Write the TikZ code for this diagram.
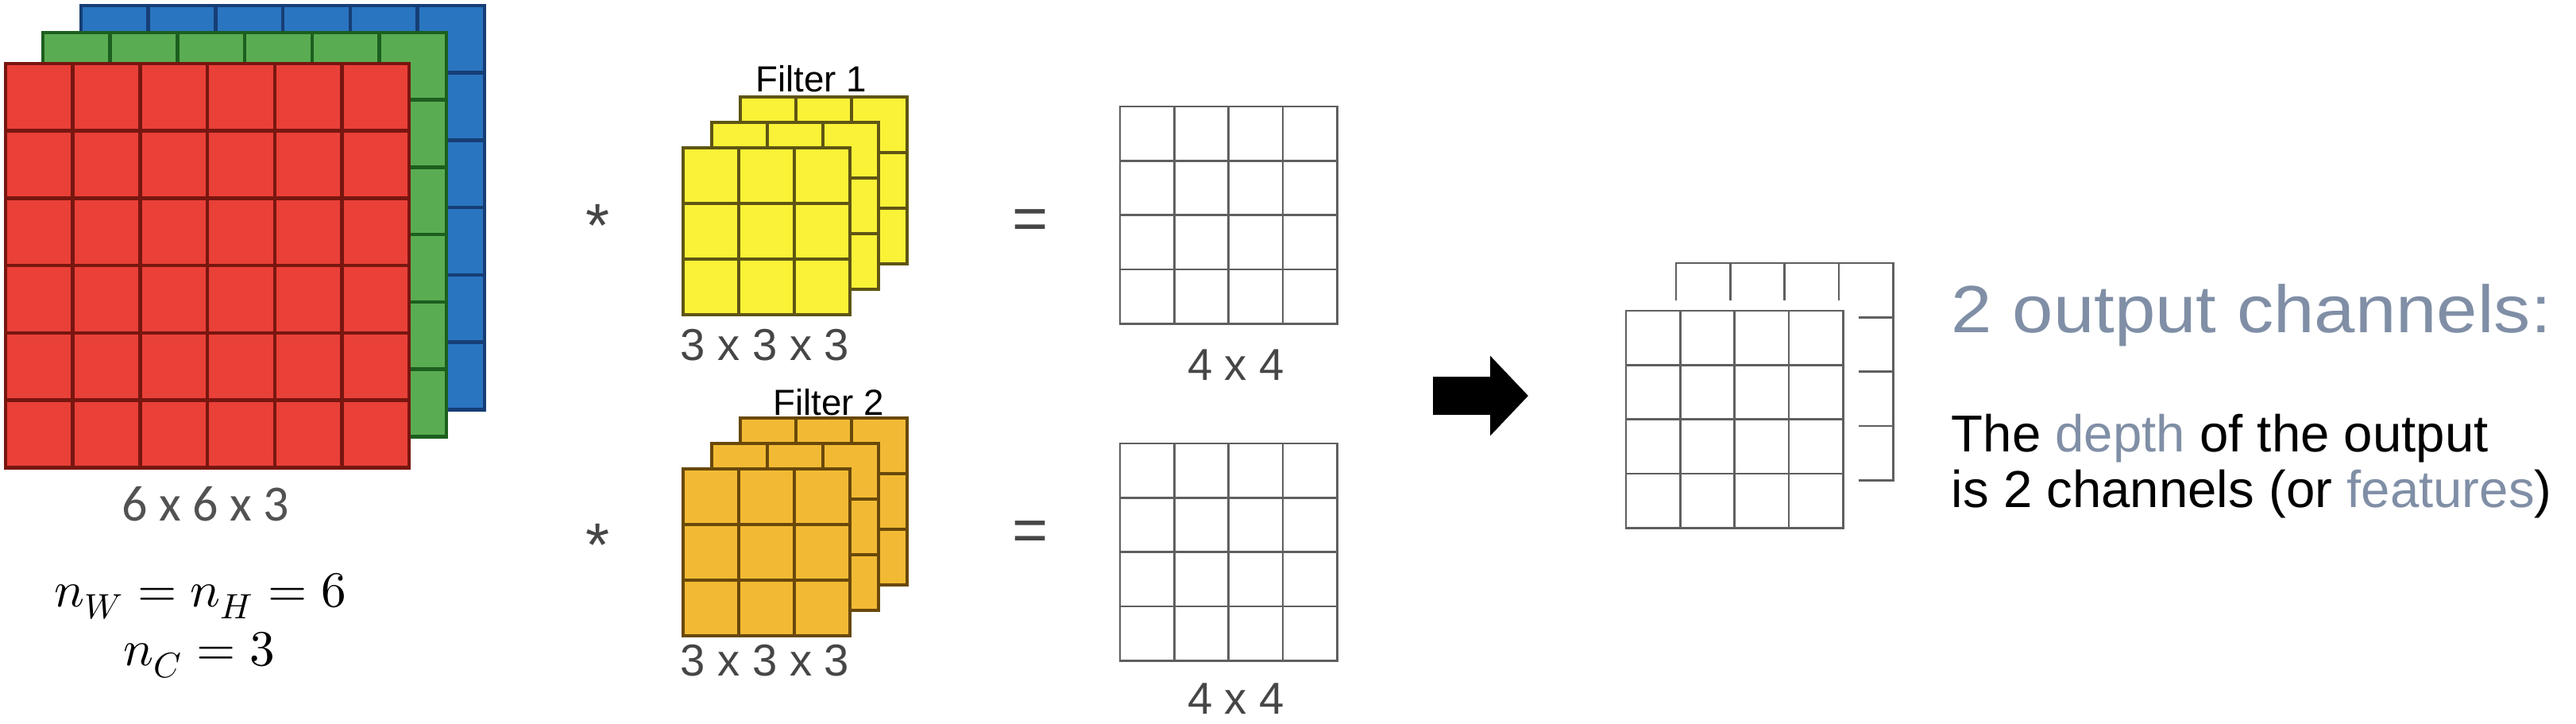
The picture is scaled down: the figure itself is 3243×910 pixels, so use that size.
\documentclass[tikz,border=0pt]{standalone}
\usepackage{fontspec}
\usepackage{unicode-math}
\setmainfont{Liberation Sans}
\newfontfamily\calfont{Carlito}
\newfontfamily\headfont[FakeStretch=1.1]{Liberation Sans}
\usetikzlibrary{arrows.meta}

\definecolor{layerred}{RGB}{233,64,56}
\definecolor{linered}{RGB}{120,22,16}
\definecolor{layergreen}{RGB}{90,172,82}
\definecolor{linegreen}{RGB}{28,95,30}
\definecolor{layerblue}{RGB}{42,117,192}
\definecolor{lineblue}{RGB}{22,62,118}
\definecolor{filteryellow}{RGB}{250,242,55}
\definecolor{lineyellow}{RGB}{95,85,20}
\definecolor{filterorange}{RGB}{242,186,52}
\definecolor{lineorange}{RGB}{105,72,10}
\definecolor{outgray}{RGB}{95,95,95}
\definecolor{labelgray}{RGB}{70,70,70}
\definecolor{headblue}{RGB}{128,143,166}

% square layer of cells: corner, cell, cells per side, fill, lines, line width
\newcommand{\cellgrid}[6]{%
  \begin{scope}[shift={#1}, line cap=rect]
    \fill[#4] (0,0) rectangle (#2*#3,#2*#3);
    \foreach \k in {0,...,#3}{
      \draw[#5, line width=#6] (\k*#2,0) -- (\k*#2,#2*#3);
      \draw[#5, line width=#6] (0,\k*#2) -- (#2*#3,\k*#2);
    }
  \end{scope}}

\tikzset{
  sizelabel/.style={inner sep=0, text=labelgray, font=\fontsize{16}{18}\selectfont},
  filterlabel/.style={inner sep=0, font=\fontsize{13}{15}\selectfont},
  oplabel/.style={inner sep=0, anchor=base, text=labelgray, font=\fontsize{22}{24}\selectfont},
  mathlabel/.style={inner sep=0, anchor=base, font=\fontsize{18}{20}\selectfont},
  bodytext/.style={inner sep=0, anchor=base west, font=\fontsize{18.6}{20}\selectfont},
  bigarrow/.style={line width=4.8mm, -{Triangle[length=4.8mm, width=9.8mm]}},
}

\begin{document}
\begin{tikzpicture}[x=0.1mm, y=-0.1mm]
\useasboundingbox (0,0) rectangle (3243,910);

\def\cin{84.7}; % input cell
\def\cf{70}; % filter cell
\def\co{68.3}; % output cell

% input volume 6x6x3
\cellgrid{(102,7)}{\cin}{6}{layerblue}{lineblue}{1.3pt}
\cellgrid{(54,41)}{\cin}{6}{layergreen}{linegreen}{1.3pt}
\cellgrid{(7,80)}{\cin}{6}{layerred}{linered}{1.3pt}

\node[sizelabel, font=\calfont\fontsize{18.2}{20}\selectfont, text=black!68] (insize) at (259,634) {6 x 6 x 3};
\node[mathlabel] (nwh) at (252,763) {$n_W = n_H = 6$};
\node[mathlabel] (nc) at (251,837) {$n_C = 3$};

% filter 1
\cellgrid{(932,122)}{\cf}{3}{filteryellow}{lineyellow}{0.95pt}
\cellgrid{(896,154)}{\cf}{3}{filteryellow}{lineyellow}{0.95pt}
\cellgrid{(860,186)}{\cf}{3}{filteryellow}{lineyellow}{0.95pt}
\node[filterlabel] (fone) at (1021,99) {Filter 1};
\node[sizelabel] (fonesize) at (963,434) {3 x 3 x 3};
\node[oplabel] (starone) at (753,310) {*};

% filter 2
\cellgrid{(932,526)}{\cf}{3}{filterorange}{lineorange}{0.95pt}
\cellgrid{(896,558)}{\cf}{3}{filterorange}{lineorange}{0.95pt}
\cellgrid{(860,590)}{\cf}{3}{filterorange}{lineorange}{0.95pt}
\node[filterlabel] (ftwo) at (1043,506) {Filter 2};
\node[sizelabel] (ftwosize) at (963,831) {3 x 3 x 3};
\node[oplabel] (startwo) at (753,712) {*};

% results 4x4
\node[oplabel] (eqone) at (1297,301) {=};
\cellgrid{(1410,134)}{\co}{4}{white}{outgray}{0.8pt}
\node[sizelabel] (outonesize) at (1556,459) {4 x 4};

\node[oplabel] (eqtwo) at (1297,693) {=};
\cellgrid{(1410,558)}{\co}{4}{white}{outgray}{0.8pt}
\node[sizelabel] (outtwosize) at (1556,879) {4 x 4};

% arrow
\coordinate (arrowtail) at (1804,498);
\coordinate (arrowtip) at (1924,498);
\draw[bigarrow] (arrowtail) -- (arrowtip);

% stacked output
\cellgrid{(2110,331)}{\co}{4}{white}{outgray}{0.8pt}
\fill[white] (2032,378) rectangle (2340,690);
\cellgrid{(2047,391)}{\co}{4}{white}{outgray}{0.8pt}

% text
\node[inner sep=0, anchor=base west, text=headblue, font=\headfont\fontsize{23.9}{26}\selectfont] (heading) at (2456,418) {2 output channels:};
\node[bodytext] (lineone) at (2456,568) {The \textcolor{headblue}{depth} of the output};
\node[bodytext] (linetwo) at (2456,638) {is 2 channels (or \textcolor{headblue}{features})};

\end{tikzpicture}
\end{document}
